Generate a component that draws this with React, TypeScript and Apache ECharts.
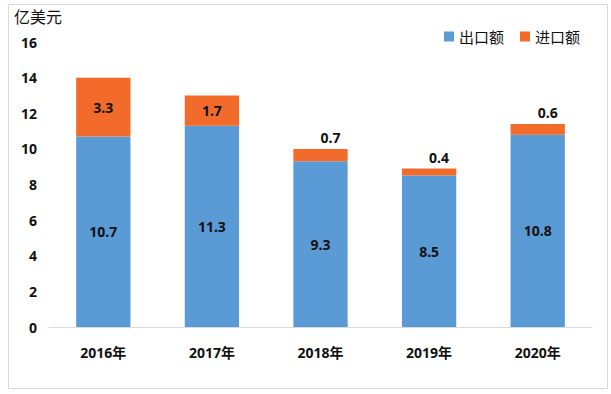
import React, { useEffect, useRef } from "react";
import * as echarts from "echarts";

const categories = ["2016年", "2017年", "2018年", "2019年", "2020年"];
const exportValues = [10.7, 11.3, 9.3, 8.5, 10.8];
const importValues = [3.3, 1.7, 0.7, 0.4, 0.6];
const seriesNames = ["出口额", "进口额"];
const unitLabel = "亿美元";

const FONT = "'Noto Sans', 'Noto Sans CJK SC', sans-serif";

export default function App() {
  const ref = useRef<HTMLDivElement>(null);
  useEffect(() => {
    const chart = echarts.init(ref.current!, undefined, { renderer: "svg" });
    chart.setOption({
      animation: false,
      textStyle: { fontFamily: FONT },
      graphic: [
        {
          type: "rect",
          shape: { x: 8.5, y: 4.5, width: 599, height: 384 },
          style: { fill: "none", stroke: "#d9d9d9", lineWidth: 1 },
          silent: true,
        },
        {
          type: "text",
          left: 14,
          top: 9,
          style: { text: unitLabel, fontSize: 16, fill: "#111", fontFamily: FONT },
        },
      ],
      legend: {
        top: 24,
        right: 26,
        itemWidth: 10,
        itemHeight: 10,
        itemGap: 16,
        icon: "rect",
        textStyle: { fontSize: 15, color: "#111", fontFamily: FONT },
        data: seriesNames,
      },
      grid: { left: 49, right: 19, top: 42, bottom: 67 },
      xAxis: {
        type: "category",
        data: categories,
        axisLine: { lineStyle: { color: "#d9d9d9", width: 1 } },
        axisTick: { show: false },
        axisLabel: { fontSize: 14, fontWeight: "bold", color: "#111", margin: 18 },
      },
      yAxis: {
        type: "value",
        min: 0,
        max: 16,
        interval: 2,
        splitLine: { show: false },
        axisLine: { show: false },
        axisTick: { show: false },
        axisLabel: { fontSize: 14, fontWeight: "bold", color: "#111", margin: 12 },
      },
      series: [
        {
          name: seriesNames[0],
          type: "bar",
          stack: "total",
          barWidth: "50%",
          data: exportValues,
          itemStyle: { color: "#5B9BD5" },
          label: { show: true, position: "inside", fontSize: 14, fontWeight: "bold", color: "#111" },
        },
        {
          name: seriesNames[1],
          type: "bar",
          stack: "total",
          barWidth: "50%",
          data: importValues,
          itemStyle: { color: "#F26B2B" },
          label: {
            show: true,
            position: "inside",
            fontSize: 14,
            fontWeight: "bold",
            color: "#111",
          },
          labelLayout: (params: any) => {
            if (params.rect.height < 20) {
              return { y: params.rect.y - 11, verticalAlign: "middle" };
            }
            return {};
          },
        },
      ],
    });
    return () => chart.dispose();
  }, []);
  return (
    <div
      ref={ref}
      style={{ position: "fixed", left: 0, top: 0, width: 611, height: 394, background: "#fff" }}
    />
  );
}
